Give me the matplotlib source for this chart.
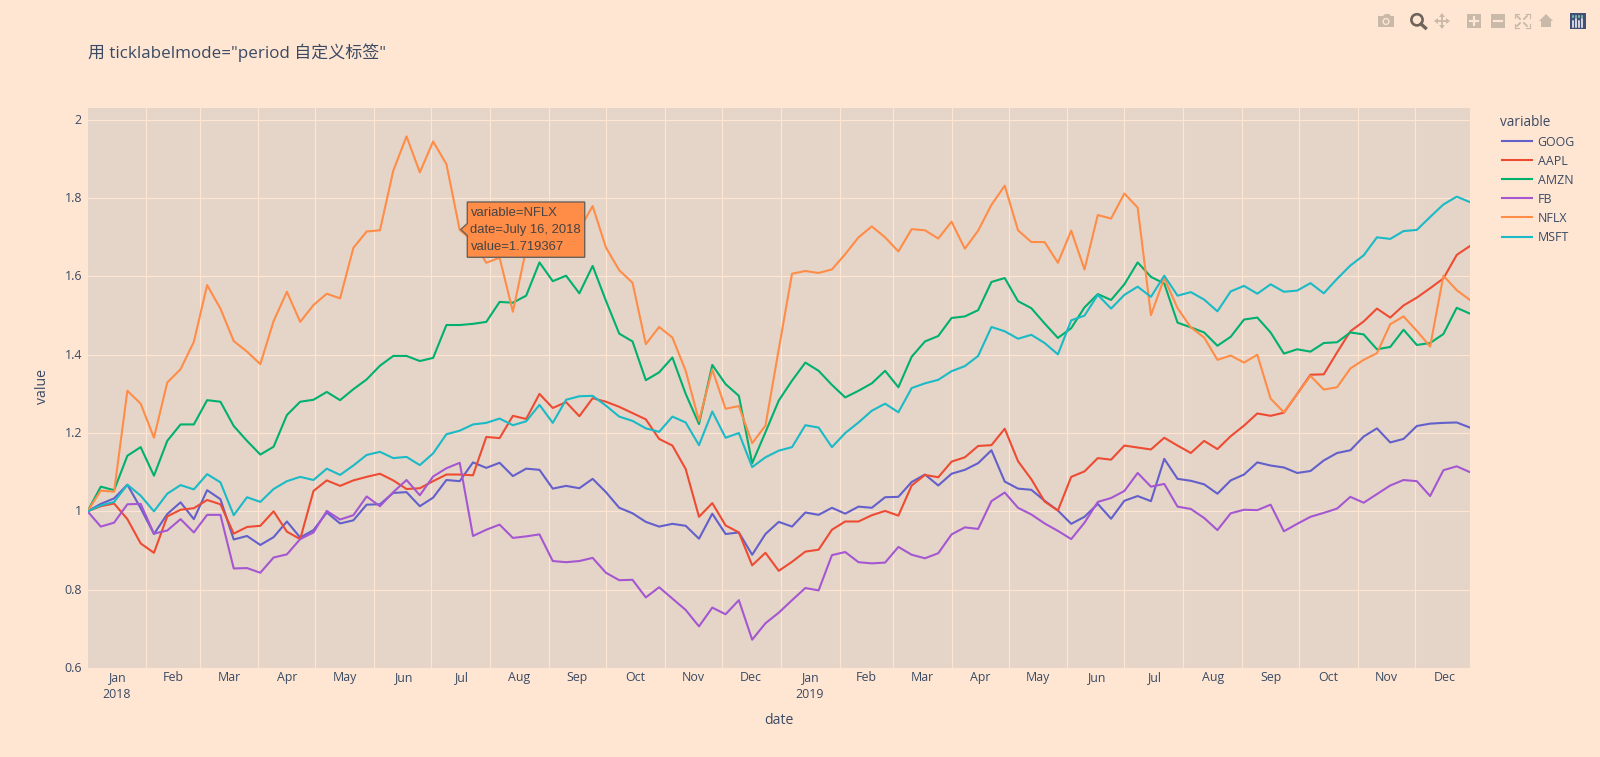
import matplotlib
matplotlib.use("Agg")
import matplotlib.pyplot as plt
from matplotlib.patches import Polygon, Ellipse
from matplotlib.lines import Line2D
from matplotlib.transforms import ScaledTranslation
import pandas as pd

W, H = 1600, 757
PAPER = "#FFE6D2"
PLOT = "#E5D5C8"
GRID = "#FFE6D2"
INK = "#3A4A64"
FONT = ["Open Sans", "Noto Sans CJK SC", "DejaVu Sans"]
plt.rcParams["font.family"] = FONT

TITLE = '用 ticklabelmode="period 自定义标签"'
dates = pd.date_range("2018-01-01", periods=105, freq="7D")

GOOG = [1.0,1.019,1.033,1.068,1.008,0.942,0.993,1.023,0.98,1.054,1.031,0.928,0.937,0.914,0.934,0.974,0.933,0.952,0.997,0.969,0.977,1.017,1.018,1.047,1.049,1.013,1.035,1.08,1.077,1.125,1.111,1.124,1.09,1.109,1.106,1.058,1.065,1.059,1.083,1.049,1.009,0.995,0.973,0.961,0.968,0.963,0.93,0.994,0.942,0.946,0.889,0.942,0.973,0.961,0.997,0.991,1.009,0.994,1.012,1.009,1.036,1.037,1.075,1.094,1.066,1.096,1.106,1.123,1.156,1.076,1.058,1.055,1.027,1.002,0.968,0.986,1.019,0.981,1.027,1.039,1.026,1.134,1.083,1.078,1.069,1.045,1.079,1.094,1.125,1.117,1.112,1.098,1.103,1.13,1.149,1.156,1.191,1.212,1.176,1.185,1.218,1.224,1.226,1.227,1.214]
AAPL = [1.0,1.013,1.02,0.98,0.918,0.894,0.987,1.004,1.008,1.029,1.018,0.943,0.96,0.963,1.0,0.948,0.929,1.052,1.079,1.065,1.079,1.088,1.096,1.079,1.057,1.059,1.077,1.094,1.094,1.092,1.19,1.187,1.244,1.236,1.3,1.264,1.279,1.243,1.289,1.28,1.267,1.251,1.235,1.185,1.168,1.108,0.986,1.021,0.964,0.946,0.862,0.894,0.848,0.871,0.897,0.902,0.953,0.974,0.974,0.99,1.001,0.989,1.066,1.093,1.087,1.127,1.138,1.167,1.169,1.211,1.128,1.082,1.025,1.002,1.088,1.102,1.136,1.132,1.168,1.163,1.158,1.188,1.168,1.149,1.18,1.159,1.192,1.219,1.25,1.244,1.252,1.3,1.349,1.35,1.406,1.46,1.485,1.518,1.495,1.526,1.546,1.57,1.595,1.655,1.678]
AMZN = [1.0,1.063,1.054,1.142,1.164,1.091,1.18,1.222,1.222,1.284,1.28,1.218,1.18,1.145,1.165,1.246,1.28,1.285,1.305,1.284,1.312,1.337,1.372,1.397,1.397,1.384,1.392,1.476,1.476,1.479,1.484,1.535,1.533,1.551,1.636,1.588,1.602,1.557,1.627,1.538,1.454,1.434,1.335,1.355,1.393,1.3,1.223,1.374,1.325,1.295,1.123,1.202,1.283,1.334,1.38,1.359,1.323,1.291,1.308,1.327,1.359,1.317,1.395,1.434,1.448,1.494,1.498,1.514,1.586,1.596,1.537,1.519,1.48,1.443,1.468,1.521,1.555,1.54,1.58,1.636,1.599,1.582,1.482,1.47,1.457,1.423,1.446,1.49,1.495,1.457,1.403,1.414,1.408,1.43,1.432,1.457,1.452,1.414,1.42,1.464,1.425,1.43,1.453,1.52,1.505]
FB = [1.0,0.961,0.971,1.018,1.019,0.943,0.951,0.98,0.946,0.991,0.991,0.854,0.855,0.843,0.882,0.89,0.929,0.946,1.001,0.979,0.99,1.038,1.013,1.049,1.08,1.041,1.089,1.11,1.124,0.937,0.953,0.966,0.932,0.936,0.941,0.873,0.87,0.873,0.881,0.843,0.824,0.825,0.78,0.806,0.777,0.748,0.706,0.754,0.737,0.773,0.672,0.714,0.741,0.773,0.804,0.798,0.888,0.896,0.87,0.867,0.869,0.909,0.889,0.88,0.893,0.941,0.959,0.955,1.026,1.048,1.009,0.992,0.969,0.95,0.929,0.971,1.024,1.034,1.052,1.098,1.063,1.07,1.012,1.006,0.983,0.952,0.995,1.004,1.003,1.017,0.949,0.968,0.986,0.996,1.007,1.037,1.022,1.044,1.066,1.08,1.077,1.039,1.105,1.115,1.1]
NFLX = [1.0,1.053,1.05,1.308,1.275,1.188,1.329,1.363,1.433,1.578,1.518,1.435,1.408,1.376,1.486,1.561,1.484,1.527,1.556,1.544,1.673,1.715,1.718,1.87,1.958,1.866,1.945,1.887,1.719,1.69,1.635,1.648,1.51,1.67,1.72,1.71,1.71,1.72,1.78,1.674,1.616,1.584,1.427,1.471,1.444,1.359,1.231,1.362,1.262,1.269,1.174,1.219,1.414,1.607,1.614,1.609,1.618,1.657,1.7,1.728,1.7,1.664,1.721,1.718,1.697,1.74,1.671,1.717,1.783,1.832,1.718,1.688,1.688,1.635,1.717,1.618,1.757,1.748,1.812,1.776,1.501,1.596,1.519,1.47,1.444,1.387,1.398,1.38,1.4,1.288,1.253,1.3,1.346,1.311,1.317,1.365,1.387,1.404,1.478,1.498,1.461,1.421,1.602,1.565,1.54]
MSFT = [1.0,1.015,1.024,1.068,1.04,1.0,1.045,1.067,1.056,1.095,1.074,0.99,1.036,1.024,1.057,1.077,1.088,1.08,1.109,1.093,1.117,1.144,1.152,1.136,1.139,1.118,1.148,1.197,1.206,1.222,1.226,1.237,1.22,1.23,1.272,1.226,1.285,1.294,1.295,1.27,1.242,1.231,1.212,1.203,1.242,1.227,1.169,1.255,1.188,1.2,1.113,1.138,1.155,1.164,1.22,1.214,1.164,1.2,1.227,1.257,1.275,1.253,1.315,1.327,1.336,1.358,1.371,1.397,1.471,1.46,1.441,1.451,1.43,1.401,1.488,1.5,1.553,1.518,1.553,1.574,1.548,1.602,1.551,1.56,1.541,1.511,1.562,1.576,1.556,1.58,1.561,1.564,1.583,1.557,1.594,1.628,1.654,1.7,1.696,1.716,1.719,1.752,1.784,1.804,1.79]

series = {"GOOG": GOOG, "AAPL": AAPL, "AMZN": AMZN, "FB": FB, "NFLX": NFLX, "MSFT": MSFT}
colors = {"GOOG": "#635FCB", "AAPL": "#EE4B33", "AMZN": "#00B06F", "FB": "#A557D2", "NFLX": "#FF8C47", "MSFT": "#1ABAC6"}

yticks = [0.6, 0.8, 1.0, 1.2, 1.4, 1.6, 1.8, 2.0]
yticklabels = ["0.6", "0.8", "1", "1.2", "1.4", "1.6", "1.8", "2"]

TICK_FS = 8.9

fig = plt.figure(figsize=(W / 100, H / 100), dpi=100, facecolor=PAPER)
L, R, T, B = 87.5, 1470, 107.6, 668.5
ax = fig.add_axes([L / W, 1 - B / H, (R - L) / W, (B - T) / H], facecolor=PLOT)
for s in ax.spines.values():
    s.set_visible(False)
ax.set_axisbelow(True)

for name, vals in series.items():
    ax.plot(dates, vals, color=colors[name], lw=1.5, label=name, solid_joinstyle="round")

ax.set_xlim(dates[0], dates[-1])
ax.set_ylim(0.5984, 2.0315)
ax.set_yticks(yticks, yticklabels)
ax.tick_params(axis="y", length=0, pad=4, labelsize=TICK_FS, labelcolor=INK)
ax.grid(axis="y", color=GRID, lw=0.8)

months = pd.date_range("2018-01-01", "2019-12-01", freq="MS")
ax.set_xticks([m for m in months if m > dates[0]], minor=False)
ax.set_xticklabels([])
mids = [m + (m + pd.offsets.MonthBegin(1) - m) / 2 for m in months]
labels = [m.strftime("%b") + ("\n" + m.strftime("%Y") if m.month == 1 else "") for m in months]
ax.set_xticks(mids, labels, minor=True)
ax.tick_params(axis="x", which="both", length=0)
ax.tick_params(axis="x", which="minor", pad=1.8, labelsize=TICK_FS, labelcolor=INK)
ax.grid(axis="x", which="major", color=GRID, lw=0.8)
for lab in ax.get_xticklabels(minor=True):
    lab.set_linespacing(1.38)
up = ScaledTranslation(0, 1 / 100, fig.dpi_scale_trans)
for lab in ax.get_yticklabels():
    lab.set_transform(lab.get_transform() + up)

ax.set_xlabel("date", fontsize=10.08, color=INK)
ax.xaxis.set_label_coords(0.5, -(721 - B) / (B - T), transform=ax.transAxes)
ax.xaxis.label.set_verticalalignment("center")
ax.set_ylabel("value", fontsize=10.08, color=INK)
ax.yaxis.set_label_coords(-(L - 43) / (R - L), 0.5 + 2 / (B - T), transform=ax.transAxes)
ax.yaxis.label.set_verticalalignment("center")

fig.text(88 / W, 1 - 53 / H, TITLE, fontsize=12.24, color=INK, va="center", ha="left")

leg = fig.legend(*ax.get_legend_handles_labels(), title="variable", loc="upper left",
                 bbox_to_anchor=(1502 / W, 1 - 114.5 / H), frameon=False, alignment="left",
                 fontsize=TICK_FS, title_fontproperties={"size": 9.8}, labelcolor=INK,
                 labelspacing=0.49, handlelength=2.46, handletextpad=0.42,
                 borderpad=0, borderaxespad=0)
leg.get_title().set_color(INK)
leg.get_title().set_position((-2, 0))


def P(x, y):
    return (x / W, 1 - y / H)


def poly(pts, **kw):
    fig.add_artist(Polygon([P(*p) for p in pts], closed=True, transform=fig.transFigure, **kw))


def seg(x0, y0, x1, y1, color, lw, z=6):
    fig.add_artist(Line2D([x0 / W, x1 / W], [1 - y0 / H, 1 - y1 / H], transform=fig.transFigure,
                          color=color, lw=lw, zorder=z))


def ring(cx, cy, r, **kw):
    fig.add_artist(Ellipse(P(cx, cy), 2 * r / W, 2 * r / H, transform=fig.transFigure, **kw))


# hover label
tip = [(460.7, 229.5), (467.3, 223.5), (467.3, 202), (584.7, 202), (584.7, 257.3), (467.3, 257.3), (467.3, 235.5)]
poly(tip, facecolor="#FF8C47", edgecolor="#6E6258", lw=1.0, zorder=10)
for yy, line in zip((212.5, 229.5, 246.5), ("variable=NFLX", "date=July 16, 2018", "value=1.719367")):
    fig.text(470.5 / W, 1 - yy / H, line, fontsize=9.36, family="Liberation Sans",
             color="#444444", va="center", ha="left", zorder=11)

# modebar
IC = "#C9B9A9"
DK = "#6E645A"
poly([(1378, 16), (1383, 16), (1385, 14), (1389, 14), (1391, 16), (1394, 16), (1394, 27), (1378, 27)],
     facecolor=IC, edgecolor="none", zorder=5)
ring(1386, 21.5, 3.6, facecolor=PAPER, edgecolor="none", zorder=6)
ring(1386, 21.5, 2.2, facecolor=IC, edgecolor="none", zorder=7)
ring(1417, 19.8, 5.6, facecolor="none", edgecolor=DK, lw=1.9, zorder=6)
seg(1421, 24, 1425.5, 28, DK, 2.4)
seg(1437, 21, 1447, 21, IC, 1.3)
seg(1442, 16, 1442, 26, IC, 1.3)
poly([(1442, 13), (1445, 17), (1439, 17)], facecolor=IC, edgecolor="none", zorder=5)
poly([(1442, 29), (1445, 25), (1439, 25)], facecolor=IC, edgecolor="none", zorder=5)
poly([(1434, 21), (1438, 18), (1438, 24)], facecolor=IC, edgecolor="none", zorder=5)
poly([(1450, 21), (1446, 18), (1446, 24)], facecolor=IC, edgecolor="none", zorder=5)
for cx in (1474, 1498):
    poly([(cx - 7, 14), (cx + 7, 14), (cx + 7, 28), (cx - 7, 28)], facecolor=IC, edgecolor="none", zorder=5)
    seg(cx - 4, 21, cx + 4, 21, PAPER, 1.6)
seg(1474, 17, 1474, 25, PAPER, 1.6)
for sx, sy in ((-1, -1), (1, -1), (-1, 1), (1, 1)):
    cx, cy = 1522 + 7.5 * sx, 21 + 7 * sy
    seg(cx, cy, cx - 4 * sx, cy, IC, 0.8)
    seg(cx, cy, cx, cy - 4 * sy, IC, 0.8)
    seg(1522 + 2 * sx, 21 + 2 * sy, 1522 + 5 * sx, 21 + 5 * sy, IC, 1.3)
poly([(1546, 14), (1553, 21), (1551, 21), (1551, 27), (1541, 27), (1541, 21), (1539, 21)],
     facecolor=IC, edgecolor="none", zorder=5)
poly([(1570, 13), (1586, 13), (1586, 29), (1570, 29)], facecolor="#3F4F75", edgecolor="none", zorder=5)
for bx, top in zip((1573, 1576, 1579, 1582), (21, 19, 21, 19)):
    seg(bx, 27, bx, top, "#FFFFFF", 1.1)
    seg(bx, 16.5, bx, 15.5, "#8FD4B8", 1.1)

fig.savefig("out.png", dpi=100, facecolor=PAPER)
